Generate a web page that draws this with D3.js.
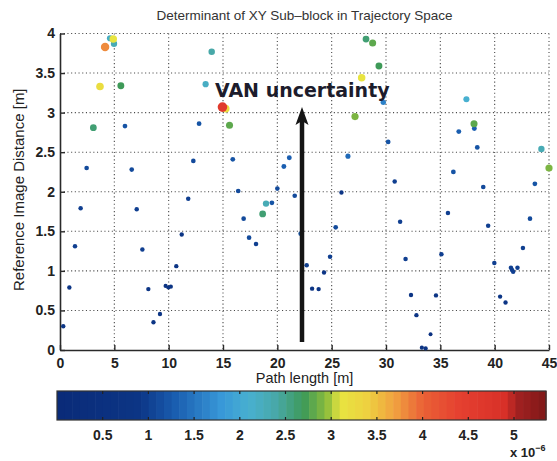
<!DOCTYPE html>
<html>
<head>
<meta charset="utf-8">
<script src="https://cdn.jsdelivr.net/npm/d3@7"></script>
<style>
  html, body { margin: 0; padding: 0; background: #fff; }
  svg { display: block; font-family: "Liberation Sans", Arial, Helvetica, sans-serif; }
</style>
</head>
<body>
<svg id="chart" width="557" height="461"></svg>
<script>
// Path length along the trajectory [m]
const pathLength = [
  4.6, 4.97, 4.9, 4.15, 3.68, 5.6, 3.07, 5.98, 2.45, 6.6,
  13.96, 13.4, 15.25, 14.95, 15.6, 12.8, 12.27, 15.9, 21.1, 20.6,
  16.4, 20.0, 28.16, 28.77, 29.35, 27.76, 29.75, 27.15, 37.4, 38.13,
  38.1, 36.7, 38.4, 30.2, 26.5, 44.3, 45.0, 36.2, 30.8, 38.95,
  43.7, 25.9, 1.9, 7.06, 11.2, 1.38, 7.58, 10.7, 0.86, 8.13,
  9.72, 9.97, 10.2, 9.2, 8.6, 0.3, 11.8, 21.6, 19.5, 18.96,
  18.65, 16.9, 22.15, 17.4, 18.04, 22.7, 35.7, 31.3, 39.4, 43.25,
  25.37, 42.6, 35.1, 31.8, 24.85, 39.97, 24.3, 41.5, 41.6, 41.7,
  42.1, 23.2, 23.8, 32.3, 34.6, 40.5, 41.0, 32.8, 34.1, 33.3,
  33.65
];
// Reference image distance [m]
const refDistance = [
  3.94, 3.87, 3.93, 3.83, 3.33, 3.34, 2.81, 2.83, 2.30, 2.28,
  3.77, 3.36, 3.05, 3.07, 2.84, 2.86, 2.39, 2.41, 2.43, 2.32,
  2.01, 2.04, 3.93, 3.88, 3.59, 3.44, 3.13, 2.95, 3.17, 2.80,
  2.86, 2.76, 2.56, 2.63, 2.45, 2.54, 2.30, 2.25, 2.13, 2.06,
  2.10, 1.99, 1.79, 1.78, 1.46, 1.31, 1.27, 1.06, 0.79, 0.77,
  0.81, 0.79, 0.80, 0.455, 0.35, 0.30, 1.91, 1.95, 1.86, 1.85,
  1.72, 1.66, 1.47, 1.42, 1.34, 1.07, 1.73, 1.62, 1.57, 1.66,
  1.55, 1.29, 1.21, 1.15, 1.18, 1.10, 0.98, 1.04, 1.01, 0.99,
  1.04, 0.775, 0.77, 0.695, 0.69, 0.675, 0.60, 0.44, 0.20, 0.03,
  0.02
];
// Determinant of the XY sub-block (units of 1e-6)
const determinant = [
  2.2, 2.3, 3.1, 3.8, 3.2, 2.7, 2.6, 1.2, 1.1, 1.1,
  2.4, 2.2, 3.2, 4.6, 2.8, 1.2, 1.1, 1.2, 1.3, 1.3,
  1.1, 1.1, 2.6, 2.8, 2.7, 3.1, 1.6, 2.9, 2.1, 1.3,
  2.8, 1.3, 1.2, 1.2, 1.4, 2.3, 2.9, 1.2, 1.0, 1.1,
  1.2, 0.9, 1.0, 1.0, 0.9, 1.0, 1.0, 0.9, 0.9, 0.9,
  0.8, 0.8, 0.8, 0.9, 0.9, 0.9, 1.0, 1.1, 1.2, 2.3,
  2.6, 1.1, 1.2, 1.1, 1.0, 1.0, 1.0, 1.0, 1.0, 1.1,
  1.1, 1.0, 1.0, 1.0, 1.0, 1.0, 0.9, 1.0, 1.0, 1.0,
  1.0, 0.9, 0.9, 0.9, 0.9, 0.9, 0.9, 0.9, 0.6, 0.8,
  0.8
];

const xTicks = [0, 5, 10, 15, 20, 25, 30, 35, 40, 45];
const yTicks = [0, 0.5, 1, 1.5, 2, 2.5, 3, 3.5, 4];
const cbTicks = [0.5, 1, 1.5, 2, 2.5, 3, 3.5, 4, 4.5, 5];
const cbRange = [0, 5.35];

const titleText = "Determinant of XY Sub\u2013block in Trajectory Space";
const xLabel = "Path length [m]";
const yLabel = "Reference Image Distance [m]";
const annotation = "VAN uncertainty";
const arrowX = 22.27, arrowFrom = 0.1, arrowTo = 3.07;

// jet-like colour map, in units of 1e-6
const cmapStops = [
  [0, "#0a2a78"], [0.9, "#0c3585"], [1.3, "#1a5eb0"], [1.8, "#3898d8"],
  [2.1, "#48b0d0"], [2.4, "#48a8a8"], [2.7, "#3e9a58"], [2.95, "#8cbc3c"],
  [3.1, "#e8e440"], [3.4, "#eed040"], [3.7, "#f0a040"], [4.0, "#ea6236"],
  [4.4, "#e54030"], [4.9, "#d83028"], [5.05, "#a02020"], [5.35, "#801818"]
];
const color = d3.scaleLinear()
  .domain(cmapStops.map(d => d[0]))
  .range(cmapStops.map(d => d[1]))
  .interpolate(d3.interpolateRgb)
  .clamp(true);

const svg = d3.select("#chart");
const plot = { left: 60, right: 549, top: 33.5, bottom: 350 };

const x = d3.scaleLinear().domain([0, 45]).range([plot.left, plot.right]);
const y = d3.scaleLinear().domain([0, 4]).range([plot.bottom, plot.top]);
const r = d3.scaleLinear().domain([0.5, 4.6]).range([1.9, 4.8]);

// dotted grid
const grid = svg.append("g").attr("stroke", "#4a4a4a").attr("stroke-width", 1.1)
  .attr("stroke-dasharray", "1.1,2.6").attr("fill", "none");
grid.selectAll("line.v").data(xTicks.slice(1)).join("line")
  .attr("x1", d => x(d)).attr("x2", d => x(d))
  .attr("y1", plot.top).attr("y2", plot.bottom);
grid.selectAll("line.h").data(yTicks.slice(1)).join("line")
  .attr("x1", plot.left).attr("x2", plot.right)
  .attr("y1", d => y(d)).attr("y2", d => y(d));

// axes (ticks point into the plot)
const axisColor = "#2a2a2a";
const xAxis = svg.append("g").attr("transform", `translate(0,${plot.bottom})`)
  .call(d3.axisBottom(x).tickValues(xTicks).tickSizeInner(-5).tickSizeOuter(0).tickPadding(8).tickFormat(d3.format("d")));
const yAxis = svg.append("g").attr("transform", `translate(${plot.left},0)`)
  .call(d3.axisLeft(y).tickValues(yTicks).tickSizeInner(-5).tickSizeOuter(0).tickPadding(5).tickFormat(d => d));
[xAxis, yAxis].forEach(a => {
  a.select(".domain").attr("stroke", axisColor).attr("stroke-width", 1.6);
  a.selectAll(".tick line").attr("stroke", axisColor).attr("stroke-width", 1.4);
  a.selectAll(".tick text").attr("fill", "#222").attr("font-size", 14).attr("font-weight", "bold")
    .attr("font-family", "'Liberation Sans', Arial, sans-serif");
});

// scatter points
const points = pathLength.map((p, i) => ({ x: p, y: refDistance[i], v: determinant[i] }));
svg.append("g").selectAll("circle").data(points).join("circle")
  .attr("cx", d => x(d.x)).attr("cy", d => y(d.y)).attr("r", d => r(d.v))
  .attr("fill", d => color(d.v));

// title and axis labels
svg.append("text").attr("x", (plot.left + plot.right) / 2).attr("y", 20)
  .attr("text-anchor", "middle").attr("font-size", 13.5).attr("fill", "#333").text(titleText);
svg.append("text").attr("x", (plot.left + plot.right) / 2).attr("y", 383)
  .attr("text-anchor", "middle").attr("font-size", 14.5).attr("fill", "#222").text(xLabel);
svg.append("text").attr("transform", `translate(24,${(plot.top + plot.bottom) / 2 - 2}) rotate(-90)`)
  .attr("text-anchor", "middle").attr("font-size", 15).attr("fill", "#222").text(yLabel);

// annotation arrow
const ax = x(arrowX), ay0 = y(arrowFrom), ay1 = y(arrowTo);
svg.append("line").attr("x1", ax).attr("x2", ax).attr("y1", ay0).attr("y2", ay1 + 14)
  .attr("stroke", "#151515").attr("stroke-width", 4.5);
svg.append("path")
  .attr("d", `M${ax},${ay1} L${ax - 6.5},${ay1 + 18} L${ax},${ay1 + 14} L${ax + 6.5},${ay1 + 18} Z`)
  .attr("fill", "#151515");
svg.append("text").attr("x", 215).attr("y", 97)
  .attr("font-family", "'DejaVu Sans', Verdana, sans-serif").attr("font-weight", "bold")
  .attr("font-size", 19).attr("fill", "#1c1c2c").text(annotation);

// colour bar
const cb = { left: 57, right: 546, top: 391, bottom: 420 };
const cx = d3.scaleLinear().domain(cbRange).range([cb.left, cb.right]);
const nSteps = 64;
const steps = d3.range(nSteps).map(i => cbRange[0] + (cbRange[1] - cbRange[0]) * i / nSteps);
const stepW = (cbRange[1] - cbRange[0]) / nSteps;
svg.append("g").selectAll("rect").data(steps).join("rect")
  .attr("x", d => cx(d)).attr("width", d => cx(d + stepW) - cx(d) + 0.6)
  .attr("y", cb.top).attr("height", cb.bottom - cb.top)
  .attr("fill", d => color(d + stepW / 2));
svg.append("rect").attr("x", cb.left).attr("y", cb.top)
  .attr("width", cb.right - cb.left).attr("height", cb.bottom - cb.top)
  .attr("fill", "none").attr("stroke", "#333").attr("stroke-width", 1.2);
const cbg = svg.append("g");
cbg.selectAll("line.t").data(cbTicks).join("line")
  .attr("x1", d => cx(d)).attr("x2", d => cx(d)).attr("y1", cb.top).attr("y2", cb.top + 3)
  .attr("stroke", "#222").attr("stroke-width", 1.2);
cbg.selectAll("line.b").data(cbTicks).join("line")
  .attr("x1", d => cx(d)).attr("x2", d => cx(d)).attr("y1", cb.bottom - 3).attr("y2", cb.bottom)
  .attr("stroke", "#222").attr("stroke-width", 1.2);
cbg.selectAll("text").data(cbTicks).join("text")
  .attr("x", d => cx(d)).attr("y", 440).attr("text-anchor", "middle")
  .attr("font-size", 14).attr("font-weight", "bold").attr("fill", "#222").text(d => d);
const exp = svg.append("text").attr("x", 510).attr("y", 457).attr("font-size", 13)
  .attr("font-weight", "bold").attr("fill", "#222");
exp.append("tspan").text("x 10");
exp.append("tspan").attr("dy", -6).attr("font-size", 9).text("\u22126");
</script>
</body>
</html>
